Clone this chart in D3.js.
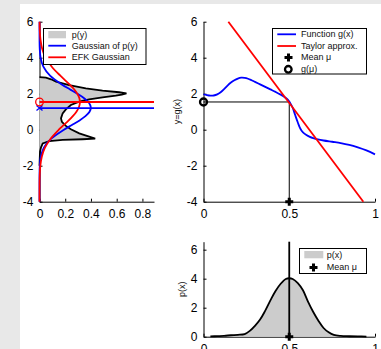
<!DOCTYPE html>
<html><head><meta charset="utf-8">
<script src="https://cdn.jsdelivr.net/npm/d3@7"></script>
<style>
html,body{margin:0;padding:0;background:#e8e8e8;}
svg{display:block;}
text{font-family:"Liberation Sans",Arial,Helvetica,sans-serif;}
</style></head><body>
<svg id="c" width="381" height="349"></svg>
<script>
// ---------- data ----------
// p(y): distribution of y = g(x) (density along y)
const pyY = [2.92, 2.89, 2.8, 2.67, 2.48, 2.3, 2.17, 2.08, 2.02, 1.95, 1.89, 1.8, 1.69, 1.56, 1.37, 1.13, 0.91, 0.63, 0.44, 0.21, 0.02, -0.2, -0.39, -0.5, -0.53, -0.57, -0.63, -0.76, -0.98, -1.22, -1.6, -2.0];
const pyD = [0, 0.05, 0.09, 0.128, 0.231, 0.36, 0.49, 0.619, 0.676, 0.64, 0.593, 0.49, 0.386, 0.309, 0.244, 0.205, 0.18, 0.167, 0.174, 0.205, 0.244, 0.309, 0.386, 0.433, 0.335, 0.18, 0.076, 0.025, 0.012, 0.004, 0.002, 0];
// Gaussian of p(y)
const blueY = [-4, -3, -2.5, -2, -1.5, -1, -0.5, 0, 0.25, 0.5, 0.75, 1, 1.25, 1.5, 1.75, 2, 2.25, 2.5, 3, 3.5, 4, 4.5, 5, 6];
const blueD = [0, 0.0001, 0.0004, 0.0022, 0.0099, 0.034, 0.091, 0.190, 0.249, 0.308, 0.357, 0.389, 0.399, 0.384, 0.347, 0.294, 0.235, 0.176, 0.082, 0.030, 0.0084, 0.0018, 0.0003, 0];
const blueMean = 1.2;
// EFK Gaussian
const redY = [-4, -3, -2.5, -2, -1.5, -1, -0.5, 0, 0.25, 0.5, 0.75, 1, 1.25, 1.5, 1.75, 2, 2.25, 2.5, 3, 3.5, 4, 4.5, 5, 5.5, 6];
const redD = [0, 0.0005, 0.002, 0.0065, 0.0179, 0.0425, 0.0865, 0.150, 0.187, 0.225, 0.259, 0.287, 0.306, 0.314, 0.310, 0.294, 0.269, 0.236, 0.162, 0.0954, 0.048, 0.0208, 0.0077, 0.0024, 0.0007];
const gMu = 1.54;
const muX = 0.5;
// Function g(x)
const gX = [0, 0.02, 0.04, 0.06, 0.08, 0.1, 0.12, 0.14, 0.16, 0.18, 0.2, 0.22, 0.24, 0.26, 0.28, 0.3, 0.33, 0.36, 0.39, 0.42, 0.45, 0.47, 0.49, 0.5, 0.51, 0.52, 0.535, 0.55, 0.565, 0.58, 0.6, 0.62, 0.64, 0.66, 0.7, 0.75, 0.8, 0.85, 0.9, 0.95, 1.0];
const gY = [1.97, 1.92, 1.89, 1.9, 1.96, 2.08, 2.25, 2.45, 2.62, 2.75, 2.84, 2.89, 2.88, 2.83, 2.75, 2.66, 2.52, 2.38, 2.24, 2.1, 1.95, 1.83, 1.68, 1.56, 1.4, 1.22, 0.8, 0.4, 0.05, -0.15, -0.3, -0.4, -0.47, -0.52, -0.6, -0.67, -0.74, -0.84, -0.98, -1.15, -1.37];
// Taylor approximation (endpoints of straight line)
const taylorX = [0.145, 0.932];
const taylorY = [6, -4];
// p(x)
const pxX = [0.04, 0.08, 0.12, 0.16, 0.2, 0.24, 0.27, 0.3, 0.33, 0.36, 0.39, 0.42, 0.45, 0.48, 0.5, 0.52, 0.55, 0.58, 0.61, 0.64, 0.67, 0.7, 0.73, 0.76, 0.8, 0.85, 0.9, 0.95];
const pxV = [0.02, 0.04, 0.06, 0.1, 0.13, 0.18, 0.4, 0.75, 1.18, 1.8, 2.5, 3.15, 3.65, 3.98, 4.03, 3.98, 3.7, 3.2, 2.4, 1.7, 1.1, 0.6, 0.3, 0.12, 0.05, 0.03, 0.02, 0.01];
// ticks
const xTicks1 = [0, 0.2, 0.4, 0.6, 0.8];
const yTicks = [-4, -2, 0, 2, 4, 6];
const xTicks2 = [0, 0.5, 1];
const yTicks3 = [0, 2, 4, 6];

// ---------- drawing ----------
const svg = d3.select('#c');
svg.append('rect').attr('x', 20).attr('y', 4).attr('width', 361).attr('height', 345).attr('fill', '#fff');

const yTop = d3.scaleLinear().domain([-4, 6]).range([201.7, 21.7]);
const x1 = d3.scaleLinear().domain([0, 0.89]).range([39.5, 154]);
const x2 = d3.scaleLinear().domain([0, 1]).range([203.5, 375]);
const y3 = d3.scaleLinear().domain([0, 6.55]).range([336.7, 241.7]);

function drawAxes(xs, ys, xt, yt) {
  const gx = svg.append('g').attr('transform', `translate(0,${ys.range()[0]})`)
    .call(d3.axisBottom(xs).tickValues(xt).tickSize(-3).tickSizeOuter(0).tickPadding(8).tickFormat(d => String(d)));
  const gy = svg.append('g').attr('transform', `translate(${xs.range()[0]},0)`)
    .call(d3.axisLeft(ys).tickValues(yt).tickSize(-3).tickSizeOuter(0).tickPadding(6).tickFormat(d => String(d)));
  [gx, gy].forEach(g => {
    g.selectAll('text').attr('font-size', 12).attr('fill', '#000').style('font-family', '"Liberation Sans",Arial,sans-serif');
    g.selectAll('line,path').attr('stroke', '#000');
    g.attr('font-family', null);
  });
}

drawAxes(x1, yTop, xTicks1, yTicks);
drawAxes(x2, yTop, xTicks2, yTicks);
drawAxes(x2, y3, xTicks2, yTicks3);

// ----- Panel 1 -----
const pyData = pyY.map((v, i) => ({y: v, d: pyD[i]}));
svg.append('path').datum(pyData)
  .attr('d', d3.area().y(d => yTop(d.y)).x0(x1(0)).x1(d => x1(d.d)))
  .attr('fill', '#cccccc');
svg.append('path').datum(pyData)
  .attr('d', d3.line().y(d => yTop(d.y)).x(d => x1(d.d)))
  .attr('fill', 'none').attr('stroke', '#000').attr('stroke-width', 1.8);
const blueData = blueY.map((v, i) => ({y: v, d: blueD[i]}));
svg.append('path').datum(blueData)
  .attr('d', d3.line().y(d => yTop(d.y)).x(d => x1(d.d)).curve(d3.curveCatmullRom))
  .attr('fill', 'none').attr('stroke', '#0000ff').attr('stroke-width', 1.8);
const redData = redY.map((v, i) => ({y: v, d: redD[i]}));
svg.append('path').datum(redData)
  .attr('d', d3.line().y(d => yTop(d.y)).x(d => x1(d.d)).curve(d3.curveCatmullRom))
  .attr('fill', 'none').attr('stroke', '#ff0000').attr('stroke-width', 1.8);
// mean lines
svg.append('line').attr('x1', x1(0)).attr('x2', x1(0.89)).attr('y1', yTop(blueMean)).attr('y2', yTop(blueMean))
  .attr('stroke', '#0000ff').attr('stroke-width', 1.8);
svg.append('line').attr('x1', x1(0)).attr('x2', x1(0.89)).attr('y1', yTop(gMu)).attr('y2', yTop(gMu))
  .attr('stroke', '#ff0000').attr('stroke-width', 1.8);
// markers
{
  const cx = x1(0), cy = yTop(blueMean);
  svg.append('path').attr('d', `M${cx-3},${cy-2.5}L${cx+3},${cy+2.5}M${cx-3},${cy+2.5}L${cx+3},${cy-2.5}`)
    .attr('stroke', '#0000ff').attr('stroke-width', 1.3).attr('fill', 'none');
  svg.append('circle').attr('cx', x1(0)).attr('cy', yTop(gMu)).attr('r', 3.8)
    .attr('fill', 'none').attr('stroke', '#ff0000').attr('stroke-width', 1.3);
}

// legend 1
function legendBox(x, y, w, h) {
  svg.append('rect').attr('x', x).attr('y', y).attr('width', w).attr('height', h)
    .attr('fill', '#fff').attr('stroke', '#000').attr('stroke-width', 1);
}
function legText(x, y, s) {
  svg.append('text').attr('x', x).attr('y', y).attr('dy', '0.35em').attr('font-size', 9).attr('fill', '#111').text(s);
}
function plus(cx, cy, s, w) {
  svg.append('path').attr('d', `M${cx-s},${cy}L${cx+s},${cy}M${cx},${cy-s}L${cx},${cy+s}`)
    .attr('stroke', '#000').attr('stroke-width', w).attr('fill', 'none');
}
legendBox(43.5, 28.5, 102.5, 36);
svg.append('rect').attr('x', 48.3).attr('y', 31).attr('width', 17.7).attr('height', 7.3).attr('fill', '#cccccc');
legText(71.7, 34.5, 'p(y)');
svg.append('line').attr('x1', 48.3).attr('x2', 66).attr('y1', 45.7).attr('y2', 45.7).attr('stroke', '#0000ff').attr('stroke-width', 1.8);
legText(71.7, 45.7, 'Gaussian of p(y)');
svg.append('line').attr('x1', 48.3).attr('x2', 66).attr('y1', 57.3).attr('y2', 57.3).attr('stroke', '#ff0000').attr('stroke-width', 1.8);
legText(71.7, 57.3, 'EFK Gaussian');

svg.append('text').attr('transform', `translate(180,${yTop(1)}) rotate(-90)`)
  .attr('text-anchor', 'middle').attr('font-size', 9).attr('fill', '#111').text('y=g(x)');

// ----- Panel 2 -----
svg.append('line').attr('x1', x2(0)).attr('x2', x2(muX)).attr('y1', yTop(gMu)).attr('y2', yTop(gMu))
  .attr('stroke', '#000').attr('stroke-width', 1);
svg.append('line').attr('x1', x2(muX)).attr('x2', x2(muX)).attr('y1', yTop(-4)).attr('y2', yTop(gMu))
  .attr('stroke', '#000').attr('stroke-width', 1);
const gData = gX.map((v, i) => ({x: v, y: gY[i]}));
svg.append('path').datum(gData)
  .attr('d', d3.line().x(d => x2(d.x)).y(d => yTop(d.y)).curve(d3.curveCatmullRom))
  .attr('fill', 'none').attr('stroke', '#0000ff').attr('stroke-width', 1.8);
svg.append('line').attr('x1', x2(taylorX[0])).attr('x2', x2(taylorX[1]))
  .attr('y1', yTop(taylorY[0])).attr('y2', yTop(taylorY[1]))
  .attr('stroke', '#ff0000').attr('stroke-width', 1.8);
plus(x2(muX), yTop(-4), 4, 3);
svg.append('circle').attr('cx', x2(0)).attr('cy', yTop(gMu)).attr('r', 3.5)
  .attr('fill', 'none').attr('stroke', '#000').attr('stroke-width', 2.3);

legendBox(272.5, 28.5, 94, 45.5);
svg.append('line').attr('x1', 277.3).attr('x2', 296).attr('y1', 34.3).attr('y2', 34.3).attr('stroke', '#0000ff').attr('stroke-width', 1.8);
legText(301, 34.3, 'Function g(x)');
svg.append('line').attr('x1', 277.3).attr('x2', 296).attr('y1', 46).attr('y2', 46).attr('stroke', '#ff0000').attr('stroke-width', 1.8);
legText(301, 46, 'Taylor approx.');
plus(288.5, 57.5, 4, 3);
legText(301, 57.3, 'Mean μ');
svg.append('circle').attr('cx', 288.3).attr('cy', 69.3).attr('r', 3.3)
  .attr('fill', 'none').attr('stroke', '#000').attr('stroke-width', 2.3);
legText(301, 69.3, 'g(μ)');

// ----- Panel 3 -----
const pxData = pxX.map((v, i) => ({x: v, v: pxV[i]}));
svg.append('path').datum(pxData)
  .attr('d', d3.area().x(d => x2(d.x)).y0(y3(0)).y1(d => y3(d.v)).curve(d3.curveCatmullRom))
  .attr('fill', '#cccccc');
svg.append('path').datum(pxData)
  .attr('d', d3.line().x(d => x2(d.x)).y(d => y3(d.v)).curve(d3.curveCatmullRom))
  .attr('fill', 'none').attr('stroke', '#000').attr('stroke-width', 1.8);
svg.append('line').attr('x1', x2(muX)).attr('x2', x2(muX)).attr('y1', y3(0)).attr('y2', y3(6.55))
  .attr('stroke', '#000').attr('stroke-width', 1.8);
plus(x2(muX), y3(0), 4, 3);

legendBox(299.5, 248.5, 67, 25);
svg.append('rect').attr('x', 304.3).attr('y', 251).attr('width', 19).attr('height', 7.3).attr('fill', '#cccccc');
legText(326.7, 254.5, 'p(x)');
plus(313.5, 267.5, 4, 3);
legText(326.7, 266.7, 'Mean μ');

svg.append('text').attr('transform', `translate(185,${(y3.range()[0] + y3.range()[1]) / 2}) rotate(-90)`)
  .attr('text-anchor', 'middle').attr('font-size', 9).attr('fill', '#111').text('p(x)');
</script>
</body></html>
